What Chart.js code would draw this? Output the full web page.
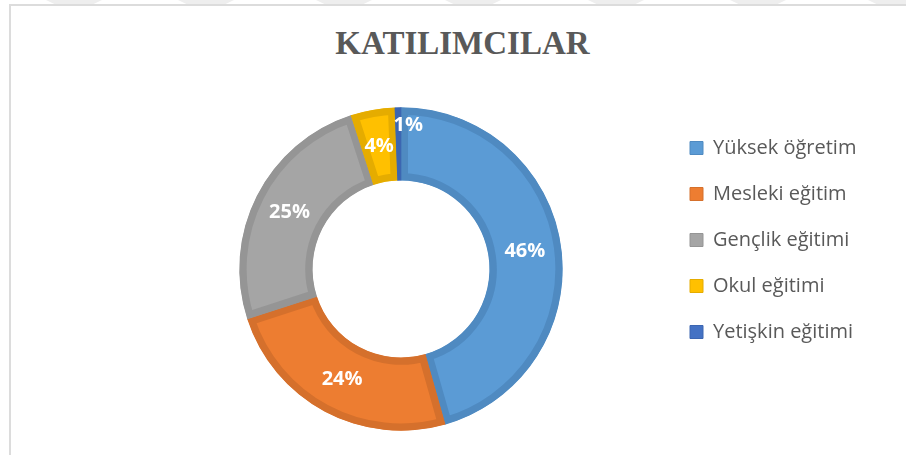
<!DOCTYPE html>
<html lang="tr">
<head>
<meta charset="utf-8">
<script src="https://cdn.jsdelivr.net/npm/chart.js@4.4.1/dist/chart.umd.min.js"></script>
<style>
  html, body { margin: 0; padding: 0; background: #ffffff; }
  body { width: 906px; height: 455px; position: relative; overflow: hidden; }
  .cerceve {
    position: absolute; left: 9px; top: 4px; width: 1000px; height: 1000px;
    border-left: 2px solid #dcdcdc; border-top: 2px solid #dcdcdc;
  }
  .filigran {
    position: absolute; top: 0; height: 4px; width: 56px; background: #eeeeee;
    clip-path: polygon(0 0, 100% 0, 85% 100%, 15% 100%);
  }
  .baslik {
    position: absolute; left: 0; top: 27px; width: 925px; text-align: center;
    font: bold 33px/33px "Liberation Serif", "Times New Roman", serif;
    color: #595959; margin: 0;
  }
  #grafik { position: absolute; left: 0; top: 0; }
</style>
</head>
<body>
<div class="filigran" style="left:46px"></div>
<div class="filigran" style="left:178px"></div>
<div class="filigran" style="left:316px"></div>
<div class="filigran" style="left:445px"></div>
<div class="filigran" style="left:588px"></div>
<div class="filigran" style="left:730px"></div>
<div class="filigran" style="left:868px"></div>
<div class="cerceve"></div>
<h1 class="baslik">KATILIMCILAR</h1>
<canvas id="grafik" width="906" height="455"></canvas>
<script>
// Veriler (grafikten okunan yüzdeler)
const kategoriler = ['Yüksek öğretim', 'Mesleki eğitim', 'Gençlik eğitimi', 'Okul eğitimi', 'Yetişkin eğitimi'];
const yuzdeler = [45.6, 24.4, 25.0, 4.4, 0.6];
const dolguRenkleri = ['#5B9BD5', '#ED7D31', '#A5A5A5', '#FFC000', '#4472C4'];
const kenarRenkleri = ['#4F8AC1', '#D5702C', '#959595', '#E5AC00', '#3C66B1'];

// Lejant ölçüleri
const yaziTipi = '"Open Sans", Lato, sans-serif';
const lejantPunto = 20;
const kutu = 13;
const satir = 46; // lejant satırları arası mesafe
const aralik = satir - lejantPunto;

// Lejant metinlerinin en genişini ölç, sağ boşluğu ona göre ayarla
const olcum = document.createElement('canvas').getContext('2d');
olcum.font = lejantPunto + 'px ' + yaziTipi;
const enGenis = Math.max(...kategoriler.map((k) => olcum.measureText(k).width));
const lejantSol = 690 - aralik;
const solBosluk = 2 * 401 - lejantSol;
const sagBosluk = Math.max(0, 906 - lejantSol - (aralik + kutu + lejantPunto / 2 + enGenis + 10));
// orta lejant satırı y=240'ta, halka merkezi y=269'da
const ustBosluk = 240 - 2 * satir - lejantPunto / 2 - aralik;
const altBosluk = 455 - (2 * 269 - ustBosluk);

// Dilimlerin üzerine yüzde etiketleri
const yuzdeEtiketleri = {
  id: 'yuzdeEtiketleri',
  afterDatasetsDraw(chart) {
    const ctx = chart.ctx;
    const meta = chart.getDatasetMeta(0);
    const toplam = yuzdeler.reduce((a, b) => a + b, 0);
    ctx.save();
    ctx.font = 'bold 20px ' + yaziTipi;
    ctx.fillStyle = '#ffffff';
    ctx.textAlign = 'center';
    ctx.textBaseline = 'middle';
    meta.data.forEach((arc, i) => {
      const oran = yuzdeler[i] / toplam;
      const metin = Math.round(oran * 100) + '%';
      let { x, y } = arc.tooltipPosition();
      if (oran < 0.02) {
        // çok ince dilim: etiketi dış kenara yakın ve biraz sağa al
        const aci = (arc.startAngle + arc.endAngle) / 2;
        const r = arc.outerRadius - 18;
        x = arc.x + Math.cos(aci) * r + 10;
        y = arc.y + Math.sin(aci) * r;
      }
      ctx.fillText(metin, x, y);
    });
    ctx.restore();
  }
};

new Chart(document.getElementById('grafik'), {
  type: 'doughnut',
  data: {
    labels: kategoriler,
    datasets: [
      {
        data: yuzdeler,
        backgroundColor: dolguRenkleri,
        borderColor: kenarRenkleri,
        borderWidth: 7,
        borderAlign: 'inner',
        borderJoinStyle: 'miter',
        clip: false
      }
    ]
  },
  options: {
    responsive: false,
    animation: false,
    events: [],
    radius: 161.7,
    cutout: '54.7%',
    layout: {
      padding: { left: solBosluk, right: sagBosluk, top: ustBosluk, bottom: altBosluk }
    },
    plugins: {
      title: { display: false },
      tooltip: { enabled: false },
      legend: {
        position: 'right',
        align: 'start',
        labels: {
          boxWidth: kutu,
          boxHeight: kutu,
          padding: aralik,
          color: '#595959',
          font: { family: yaziTipi, size: lejantPunto },
          generateLabels(chart) {
            const ogeler = Chart.overrides.doughnut.plugins.legend.labels.generateLabels(chart);
            ogeler.forEach((o, i) => {
              o.lineWidth = 1;
              o.strokeStyle = kenarRenkleri[i];
            });
            return ogeler;
          }
        }
      }
    }
  },
  plugins: [yuzdeEtiketleri]
});
</script>
</body>
</html>
